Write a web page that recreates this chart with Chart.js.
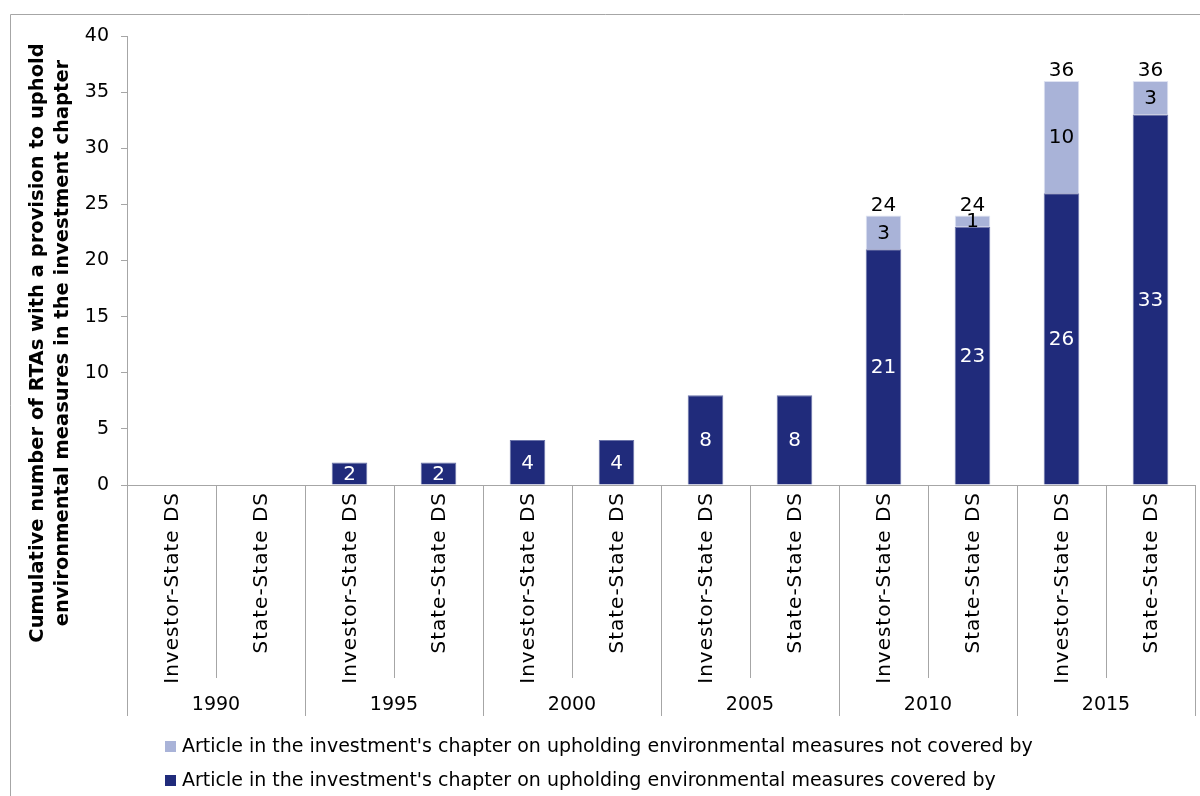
<!DOCTYPE html>
<html>
<head>
<meta charset="utf-8">
<script src="https://cdn.jsdelivr.net/npm/chart.js@4/dist/chart.umd.min.js"></script>
<style>
  html, body { margin: 0; padding: 0; background: #fff; }
  #wrap { width: 1200px; height: 796px; position: relative; }
</style>
</head>
<body>
<div id="wrap"><canvas id="grafico" width="1200" height="796"></canvas></div>
<script>
// Categorias (duas por ano) e anos
const categorias = [
    "Investor-State DS", "State-State DS",
    "Investor-State DS", "State-State DS",
    "Investor-State DS", "State-State DS",
    "Investor-State DS", "State-State DS",
    "Investor-State DS", "State-State DS",
    "Investor-State DS", "State-State DS"
];
const anos = ["1990", "1995", "2000", "2005", "2010", "2015"];

// Valores das séries
const cobertos = [0, 0, 2, 2, 4, 4, 8, 8, 21, 23, 26, 33];
const naoCobertos = [0, 0, 0, 0, 0, 0, 0, 0, 3, 1, 10, 3];

const nomeCobertos = "Article in the investment's chapter on upholding environmental measures covered by";
const nomeNaoCobertos = "Article in the investment's chapter on upholding environmental measures not covered by";
const tituloEixoY = [
    "Cumulative number of RTAs with a provision to uphold",
    "environmental measures in the investment chapter"
];

const corEscura = "#202b7b";
const corClara = "#a9b3d8";
const corLinha = "#a6a6a6";
const fonte = "'DejaVu Sans', Verdana, sans-serif";

// Moldura, título do eixo Y, eixo X de dois níveis e legenda
const extras = {
    id: "extras",
    afterDraw(chart) {
        const ctx = chart.ctx;
        const x = chart.scales.x;
        const area = chart.chartArea;
        ctx.save();

        // moldura
        ctx.strokeStyle = corLinha;
        ctx.lineWidth = 1;
        ctx.beginPath();
        ctx.moveTo(10.5, 800);
        ctx.lineTo(10.5, 14.5);
        ctx.lineTo(1205, 14.5);
        ctx.stroke();

        // título do eixo Y
        ctx.fillStyle = "#000";
        ctx.font = "bold 19.5px " + fonte;
        ctx.textAlign = "center";
        ctx.textBaseline = "middle";
        ctx.save();
        ctx.translate(38, 343);
        ctx.rotate(-Math.PI / 2);
        ctx.fillText(tituloEixoY[0], 0, 0);
        ctx.fillText(tituloEixoY[1], 0, 25);
        ctx.restore();

        // separadores do eixo X
        const passo = x.getPixelForValue(1) - x.getPixelForValue(0);
        ctx.strokeStyle = corLinha;
        for (let i = 0; i <= categorias.length; i++) {
            const px = Math.round(x.getPixelForValue(i) - passo / 2) + 0.5;
            const fim = (i % 2 === 0) ? 716 : 678;
            ctx.beginPath();
            ctx.moveTo(px, area.bottom);
            ctx.lineTo(px, fim);
            ctx.stroke();
        }

        // rótulos das categorias (rodados)
        ctx.font = "20px " + fonte;
        ctx.letterSpacing = "1px";
        ctx.fillStyle = "#000";
        ctx.textAlign = "right";
        ctx.textBaseline = "middle";
        categorias.forEach((c, i) => {
            ctx.save();
            ctx.translate(x.getPixelForValue(i) + 1, area.bottom + 7);
            ctx.rotate(-Math.PI / 2);
            ctx.fillText(c, 0, 0);
            ctx.restore();
        });
        ctx.letterSpacing = "0px";

        // anos
        ctx.font = "19px " + fonte;
        ctx.textAlign = "center";
        anos.forEach((a, k) => {
            const px = (x.getPixelForValue(2 * k) + x.getPixelForValue(2 * k + 1)) / 2;
            ctx.fillText(a, px, 705);
        });

        // legenda
        const itens = [
            { texto: nomeNaoCobertos, cor: corClara, y: 747 },
            { texto: nomeCobertos, cor: corEscura, y: 781 }
        ];
        ctx.font = "19px " + fonte;
        ctx.textAlign = "left";
        itens.forEach(it => {
            ctx.fillStyle = it.cor;
            ctx.fillRect(165, it.y - 6, 11, 11);
            ctx.fillStyle = "#000";
            ctx.fillText(it.texto, 182, it.y);
        });

        ctx.restore();
    }
};

// Rótulos de valor e totais
const rotulos = {
    id: "rotulos",
    afterDatasetsDraw(chart) {
        const ctx = chart.ctx;
        ctx.save();
        ctx.font = "20px " + fonte;
        ctx.textAlign = "center";
        ctx.textBaseline = "middle";
        chart.data.datasets.forEach((ds, d) => {
            const meta = chart.getDatasetMeta(d);
            meta.data.forEach((barra, i) => {
                const v = ds.data[i];
                if (!v) return;
                ctx.fillStyle = d === 0 ? "#fff" : "#000";
                ctx.fillText(String(v), barra.x, (barra.y + barra.base) / 2 + 1);
            });
        });
        const topo = chart.getDatasetMeta(1);
        ctx.fillStyle = "#000";
        ctx.textBaseline = "alphabetic";
        topo.data.forEach((barra, i) => {
            if (!naoCobertos[i]) return;
            const total = cobertos[i] + naoCobertos[i];
            ctx.fillText(String(total), barra.x, barra.y - 5);
        });
        ctx.restore();
    }
};

const ctx = document.getElementById("grafico").getContext("2d");

new Chart(ctx, {
    type: "bar",
    data: {
        labels: categorias,
        datasets: [
            {
                label: nomeCobertos,
                data: cobertos,
                backgroundColor: corEscura,
                borderColor: "#6b74aa",
                borderWidth: 1,
                barPercentage: 0.8,
                categoryPercentage: 0.5
            },
            {
                label: nomeNaoCobertos,
                data: naoCobertos,
                backgroundColor: corClara,
                borderColor: "#dfe3f2",
                borderWidth: 1,
                barPercentage: 0.8,
                categoryPercentage: 0.5
            }
        ]
    },
    options: {
        responsive: false,
        animation: false,
        layout: {
            padding: { top: 36, right: 5, bottom: 311, left: 0 }
        },
        plugins: {
            legend: { display: false },
            tooltip: { enabled: false }
        },
        scales: {
            x: {
                stacked: true,
                afterFit: function(s) { s.height = 0; },
                ticks: { display: false },
                grid: { display: false },
                border: { display: true, color: corLinha }
            },
            y: {
                stacked: true,
                min: 0,
                max: 40,
                afterFit: function(s) { s.width = 127; },
                ticks: {
                    stepSize: 5,
                    color: "#000",
                    padding: 12,
                    font: { family: fonte, size: 19 }
                },
                grid: { drawOnChartArea: false, drawTicks: true, tickLength: 6, color: corLinha },
                border: { display: true, color: corLinha }
            }
        }
    },
    plugins: [extras, rotulos]
});
</script>
</body>
</html>
